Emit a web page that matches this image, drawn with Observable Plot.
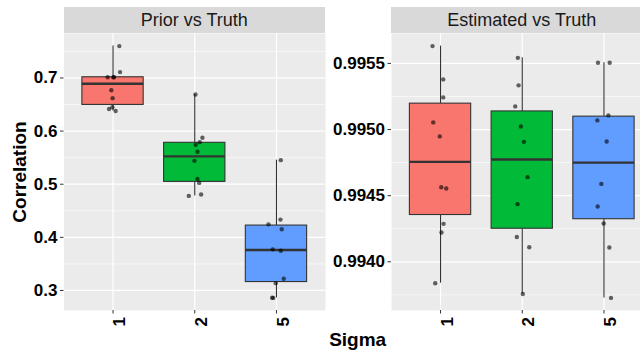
<!DOCTYPE html>
<html>
<head>
<meta charset="utf-8">
<script src="https://cdn.jsdelivr.net/npm/d3@7"></script>
<script src="https://cdn.jsdelivr.net/npm/@observablehq/plot@0.6"></script>
<style>
  html, body { margin: 0; padding: 0; background: #fff; }
  #fig { position: relative; width: 640px; height: 350px; overflow: hidden; font-family: "Liberation Sans", Arial, Helvetica, sans-serif; }
  #fig svg { position: absolute; top: 0; overflow: visible; }
  .strip { position: absolute; top: 7px; height: 26px; background: #D9D9D9; color: #1A1A1A; font-size: 18px; line-height: 26px; text-align: center; }
  .axtitle { position: absolute; font-weight: bold; font-size: 19px; color: #000; white-space: nowrap; }
</style>
</head>
<body>
<div id="fig"></div>
<script>
// ---- data ----
const sigmaLabels = ["1", "2", "5"];
const panelTitles = ["Prior vs Truth", "Estimated vs Truth"];
const boxFills = ["#F8766D", "#00BA38", "#619CFF"];

// Prior vs Truth correlations, per sigma
const priorSigma1 = [0.760, 0.711, 0.7013, 0.7013, 0.677, 0.662, 0.6415, 0.645, 0.6377, 0.7013];
const priorSigma2 = [0.669, 0.5874, 0.5792, 0.5742, 0.561, 0.544, 0.510, 0.5025, 0.478, 0.4806];
const priorSigma5 = [0.5453, 0.4334, 0.4245, 0.4151, 0.3774, 0.3749, 0.322, 0.3138, 0.2862, 0.286];
// Estimated vs Truth correlations, per sigma
const estSigma1 = [0.995631, 0.995379, 0.995243, 0.995054, 0.994948, 0.994564, 0.994554, 0.994287, 0.994222, 0.993838];
const estSigma2 = [0.995542, 0.995334, 0.995175, 0.995023, 0.994907, 0.994640, 0.994436, 0.994188, 0.994110, 0.993757];
const estSigma5 = [0.995505, 0.995505, 0.995107, 0.995069, 0.994910, 0.994589, 0.994418, 0.994290, 0.994108, 0.993727];

// horizontal jitter of each point (in category units), as seen in the picture
const priorJitter1 = [0.077, 0.086, -0.066, 0.012, -0.021, -0.005, -0.049, -0.009, 0.032, 0.004];
const priorJitter2 = [0.009, 0.094, 0.061, 0.012, 0.033, -0.004, 0.033, 0.054, -0.073, 0.078];
const priorJitter5 = [0.053, 0.049, -0.098, 0.065, -0.045, 0.053, 0.089, -0.009, -0.053, -0.040];
const estJitter1 = [-0.098, 0.033, 0.033, -0.089, -0.009, 0.009, 0.070, 0.037, 0.012, -0.065];
const estJitter2 = [-0.054, -0.045, -0.086, -0.017, 0.020, 0.065, -0.058, -0.066, 0.086, 0.007];
const estJitter5 = [-0.073, 0.070, 0.054, -0.081, 0.033, -0.032, -0.077, -0.004, 0.066, 0.086];

// axis ticks
const priorTicks = [0.3, 0.4, 0.5, 0.6, 0.7];
const priorMinor = [0.25, 0.35, 0.45, 0.55, 0.65, 0.75];
const estTicks = [0.9940, 0.9945, 0.9950, 0.9955];
const estMinor = [0.99375, 0.99425, 0.99475, 0.99525, 0.99575];

// ---- drawing ----
function stats(vals, i) {
  const s = vals.slice().sort(d3.ascending);
  const q1 = d3.quantile(s, 0.25), med = d3.quantile(s, 0.5), q3 = d3.quantile(s, 0.75);
  const iqr = q3 - q1;
  const lo = d3.min(s.filter(v => v >= q1 - 1.5 * iqr));
  const hi = d3.max(s.filter(v => v <= q3 + 1.5 * iqr));
  return {x: i + 1, q1, med, q3, lo, hi, fill: boxFills[i]};
}

function panel(groups, jitters, ticks, minor, fmt, width, marginLeft) {
  const pts = groups.flatMap((vals, i) => vals.map((v, j) => ({x: i + 1 + jitters[i][j], y: v})));
  const st = groups.map(stats);
  const ext = d3.extent(groups.flat());
  const pad = (ext[1] - ext[0]) * 0.05;
  const yDomain = [ext[0] - pad, ext[1] + pad];
  const minorIn = minor.filter(v => v > yDomain[0] && v < yDomain[1]);
  return Plot.plot({
    width, height: 350,
    marginTop: 33, marginBottom: 40, marginLeft, marginRight: 0,
    x: {domain: [0.4, 3.6], axis: null},
    y: {domain: yDomain, axis: null},
    style: {fontFamily: '"Liberation Sans", Arial, Helvetica, sans-serif', fontSize: "17px", fontWeight: "bold", color: "#000", background: "transparent"},
    marks: [
      Plot.frame({fill: "#EBEBEB", stroke: null}),
      Plot.ruleY(minorIn, {stroke: "#fff", strokeWidth: 0.6}),
      Plot.ruleY(ticks, {stroke: "#fff", strokeWidth: 1.2}),
      Plot.ruleX([1, 2, 3], {stroke: "#fff", strokeWidth: 1.2}),
      Plot.ruleX(st, {x: "x", y1: "q3", y2: "hi", stroke: "#333", strokeWidth: 1.1}),
      Plot.ruleX(st, {x: "x", y1: "lo", y2: "q1", stroke: "#333", strokeWidth: 1.1}),
      Plot.rect(st, {x1: d => d.x - 0.375, x2: d => d.x + 0.375, y1: "q1", y2: "q3", fill: "fill", stroke: "#333", strokeWidth: 1.1}),
      Plot.ruleY(st, {x1: d => d.x - 0.375, x2: d => d.x + 0.375, y: "med", stroke: "#333", strokeWidth: 2.3}),
      Plot.dot(pts, {x: "x", y: "y", r: 2.2, fill: "#000", fillOpacity: 0.6, stroke: null}),
      Plot.axisY({ticks, tickFormat: fmt, tickSize: 3.5, tickPadding: 3, stroke: "#333", fill: "#000", label: null}),
      Plot.axisX({ticks: [1, 2, 3], tickFormat: () => "", tickSize: 3.5, stroke: "#333", label: null}),
      Plot.text([1, 2, 3], {x: d => d, text: d => sigmaLabels[d - 1], frameAnchor: "bottom", rotate: -90, textAnchor: "end", lineAnchor: "top", dy: 6.5, fill: "#000"})
    ]
  });
}

const fig = document.getElementById("fig");
const left = panel([priorSigma1, priorSigma2, priorSigma5], [priorJitter1, priorJitter2, priorJitter5],
  priorTicks, priorMinor, d3.format(".1f"), 325, 63.5);
left.style.left = "0px";
fig.appendChild(left);
const right = panel([estSigma1, estSigma2, estSigma5], [estJitter1, estJitter2, estJitter5],
  estTicks, estMinor, d3.format(".4f"), 327.5, 66);
right.style.left = "325px";
fig.appendChild(right);

// facet strips
[[63.5, panelTitles[0]], [391, panelTitles[1]]].forEach(([x, t]) => {
  const d = document.createElement("div");
  d.className = "strip";
  d.style.left = x + "px";
  d.style.width = "261.5px";
  d.textContent = t;
  fig.appendChild(d);
});

// axis titles
const yt = document.createElement("div");
yt.className = "axtitle";
yt.textContent = "Correlation";
yt.style.left = "20px";
yt.style.top = "171.5px";
yt.style.transform = "translate(-50%, -50%) rotate(-90deg)";
fig.appendChild(yt);

const xt = document.createElement("div");
xt.className = "axtitle";
xt.textContent = "Sigma";
xt.style.left = "357.7px";
xt.style.top = "340px";
xt.style.transform = "translate(-50%, -50%)";
fig.appendChild(xt);
</script>
</body>
</html>
